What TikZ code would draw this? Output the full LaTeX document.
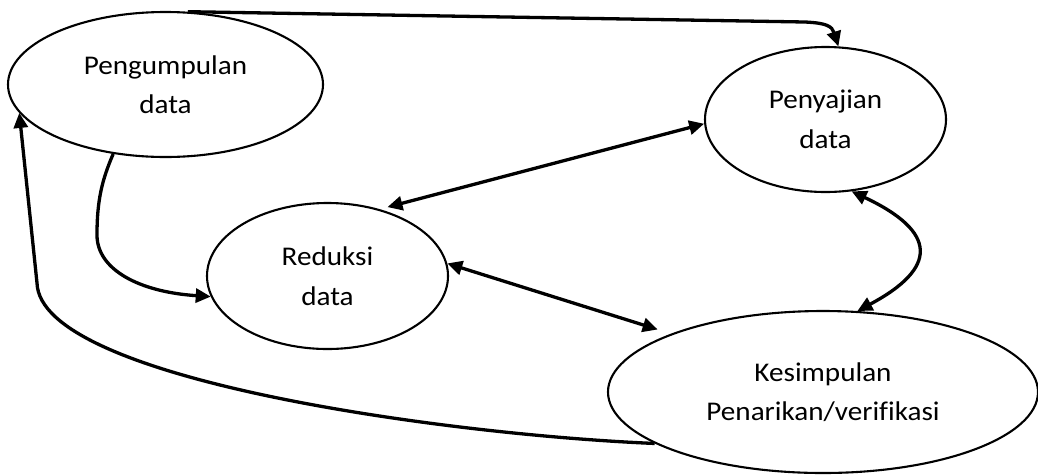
\documentclass[tikz,border=0pt]{standalone}
\usepackage{fontspec}
\setmainfont[FakeStretch=1.08, Ligatures=NoCommon]{Carlito}
\usetikzlibrary{arrows.meta,shapes.geometric}

\begin{document}
\begin{tikzpicture}[x = 1pt, y = 1pt,
	tahap/.style = {ellipse, draw, line width = 2.1pt, inner sep = 0pt, align = center, font = \fontsize{27}{39.5}\selectfont},
	panah/.style = {line width = 3.3pt, -{Triangle[length = 15pt, width = 14pt]}},
	panahdua/.style = {line width = 3.3pt, {Triangle[length = 15pt, width = 14pt]}-{Triangle[length = 15pt, width = 14pt]}}]
	\useasboundingbox (0,0) rectangle (1038,-475);
	\node[tahap, minimum width = 315pt, minimum height = 145pt] (pengumpulan) at (165.5,-84.5) {Pengumpulan\\data};
	\node[tahap, minimum width = 241pt, minimum height = 145pt] (penyajian) at (825.5,-119.5) {Penyajian\\data};
	\node[tahap, minimum width = 241pt, minimum height = 146pt] (reduksi) at (327.5,-276) {Reduksi\\data};
	\node[tahap, minimum width = 430pt, minimum height = 162pt] (kesimpulan) at (823,-392) {Kesimpulan\\Penarikan/verifikasi};
	\draw[panah] (pengumpulan.73) -- (805,-22) .. controls (826,-23) and (832,-26) .. (penyajian.80);
	\draw[panahdua, shorten <= 8pt] (reduksi.52) -- (penyajian.182);
	\draw[panah] (pengumpulan.233) .. controls (102,-180) and (97,-200) .. (97,-235)
		.. controls (97,-270) and (140,-292) .. (reduksi.190);
	\draw[panahdua, shorten >= 14pt] (reduksi.6) -- (kesimpulan.159);
	\draw[panahdua] (penyajian.290) .. controls (938,-232) and (938,-268) .. (kesimpulan.67);
	\draw[panah] (kesimpulan.197) .. controls (450,-435) and (40,-380) .. (37,-283) -- (pengumpulan.191);
\end{tikzpicture}
\end{document}
